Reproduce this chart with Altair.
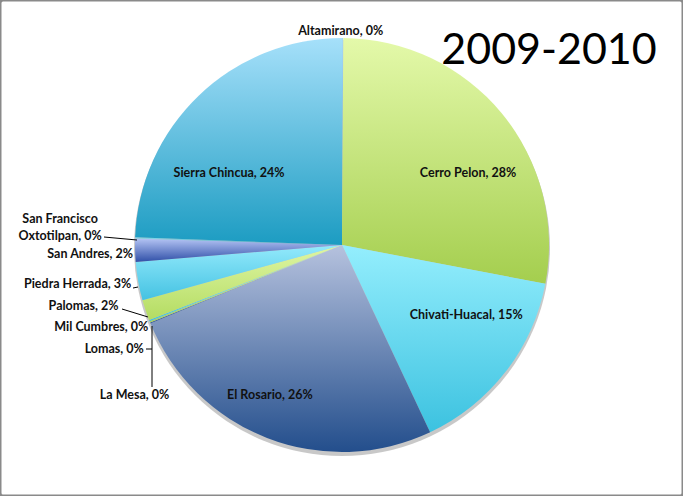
import altair as alt
import pandas as pd
import math

# ---------------- data ----------------
names = ["Altamirano", "Cerro Pelon", "Chivati-Huacal", "El Rosario", "La Mesa",
         "Lomas", "Mil Cumbres", "Palomas", "Piedra Herrada", "San Andres",
         "San Francisco\nOxtotilpan", "Sierra Chincua"]
values = [0.1, 27.9, 15.0, 25.8, 0.1, 0.1, 0.1, 1.6, 3.0, 1.8, 0.1, 24.4]
top_colors = ["#a8d8f5", "#e4f9aa", "#94eefd", "#b6c2de", "#c8d0e8", "#d8f2a0",
              "#9aeafc", "#dff6a4", "#94eafc", "#b4c4f4", "#8fdcec", "#a6e0fa"]
bot_colors = ["#3c8fc8", "#a4ce4e", "#3cc2e0", "#234e8c", "#3a5f9e", "#a8d05a",
              "#40c0e0", "#b4dc62", "#44c2e2", "#3050a8", "#2a9cbc", "#1c9cc2"]
title_text = "2009-2010"

df = pd.DataFrame({"name": names, "value": values, "order": list(range(len(names)))})
TOTAL = 100.0
CX, CY, R = 342, 245, 207
FONT = "Lato"

base = (
    alt.Chart(df)
    .transform_window(cum="sum(value)", sort=[alt.SortField("order")], frame=[None, 0])
    .transform_calculate(start="datum.cum - datum.value",
                         mid="datum.cum - datum.value / 2",
                         label="datum.name + ', ' + format(datum.value / 100, '.0%')")
)
tscale = alt.Scale(domain=[0, TOTAL], range=[0, 2 * math.pi])

layers = []
# shadow
layers.append(
    alt.Chart(df).mark_arc(theta=0, theta2=2 * math.pi, outerRadius=R + 1, fill="#9a9a9a", opacity=0.55)
    .encode(x=alt.value(CX), y=alt.value(CY + 3))
    .transform_filter(alt.datum.order == 0)
)

for n, c1, c2 in zip(names, top_colors, bot_colors):
    grad = alt.LinearGradient(gradient="linear",
                              stops=[alt.GradientStop(color=c1, offset=0),
                                     alt.GradientStop(color=c2, offset=1)],
                              x1=0, x2=0, y1=0, y2=1)
    layers.append(
        base.transform_filter(alt.datum.name == n)
        .mark_arc(outerRadius=R, fill=grad)
        .encode(x=alt.value(CX), y=alt.value(CY),
                theta=alt.Theta("start:Q", scale=tscale),
                theta2="cum:Q")
    )

# label placements: name -> (radius, dx, dy, align)
placements = {
    "Cerro Pelon": (145, 14, 20, "center"),
    "Sierra Chincua": (134, -20, 25, "center"),
    "Chivati-Huacal": (142, 12, -17, "center"),
    "El Rosario": (166, -12, -5, "center"),
    "Altamirano": (214, -2, 0, "center"),
    "La Mesa": (207, 19, 72, "right"),
    "Lomas": (207, -6, 27, "right"),
    "Mil Cumbres": (207, -1, 6, "right"),
    "Palomas": (207, -27, -4, "right"),
    "Piedra Herrada": (207, -7, 3, "right"),
    "San Andres": (207, -2, 4, "right"),
    "San Francisco\nOxtotilpan": (207, -75, -19, "center"),
}
for n, (r, dx, dy, al) in placements.items():
    layers.append(
        base.transform_filter(alt.datum.name == n)
        .mark_text(radius=r, dx=dx, dy=dy, align=al, baseline="middle",
                   font=FONT, fontWeight="bold", fontSize=12.5, color="#111111",
                   lineBreak="\n", lineHeight=17)
        .encode(x=alt.value(CX), y=alt.value(CY),
                theta=alt.Theta("mid:Q", scale=tscale),
                text="label:N")
    )

# leader lines
leaders = [((104, 237), (137, 240)), ((133, 288), (138, 287)), ((122, 309), (148, 317)),
           ((152, 326), (152, 387)), ((146, 349), (152, 349))]
for (a, b) in leaders:
    layers.append(
        alt.Chart(df).transform_filter(alt.datum.order == 0)
        .mark_rule(color="#000000", strokeWidth=1)
        .encode(x=alt.value(a[0]), y=alt.value(a[1]), x2=alt.value(b[0]), y2=alt.value(b[1]))
    )

# title
layers.append(
    alt.Chart(df).transform_filter(alt.datum.order == 0)
    .mark_text(text=title_text, font="Lato", fontSize=43, color="#000000",
               align="center", baseline="alphabetic")
    .encode(x=alt.value(549), y=alt.value(64))
)

chart = (
    alt.layer(*layers)
    .properties(width=683, height=496, padding=0, autosize=alt.AutoSizeParams(type="none"),
                background="white")
    .configure_view(stroke="#8a8a8a", strokeWidth=3, cornerRadius=3)
)

chart.save("out.html", embed_options={"renderer": "svg", "actions": False})
